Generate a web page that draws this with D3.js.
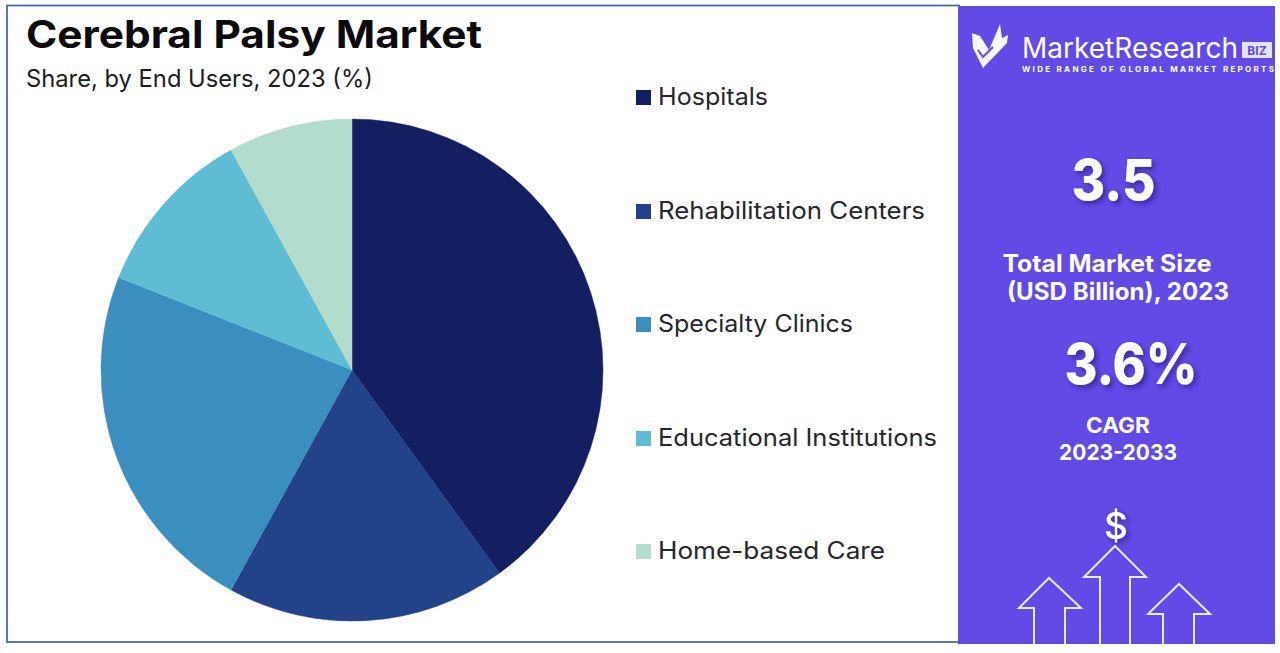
<!DOCTYPE html>
<html>
<head>
<meta charset="utf-8">
<script src="https://cdn.jsdelivr.net/npm/d3@7"></script>
<style>
  html, body { margin: 0; padding: 0; background: #fff; }
  svg { display: block; }
  text { font-family: Inter, "Open Sans", sans-serif; }
</style>
</head>
<body>
<div id="chart"></div>
<script>
const categories = ['Hospitals', 'Rehabilitation Centers', 'Specialty Clinics', 'Educational Institutions', 'Home-based Care'];
const shares = [40, 18, 23, 11, 8];
const colors = ['#141f61', '#22428a', '#3a8fbe', '#5fbdd3', '#b2ddcd'];
const panelStats = ['3.5', '3.6%'];
const panelLabels = [['Total Market Size', '(USD Billion), 2023'], ['CAGR', '2023-2033']];

const width = 1280, height = 653;
const purple = '#614ae6';

const svg = d3.select('#chart').append('svg')
    .attr('width', width)
    .attr('height', height);

const defs = svg.append('defs');
const shadow = defs.append('filter').attr('id', 'soft').attr('x', '-30%').attr('y', '-30%').attr('width', '170%').attr('height', '170%');
shadow.append('feDropShadow')
    .attr('dx', 3).attr('dy', 3).attr('stdDeviation', 2.5)
    .attr('flood-color', '#2a1d8c').attr('flood-opacity', 0.7);

// Frame and side panel
svg.append('rect')
    .attr('x', 7).attr('y', 5.5).attr('width', 952).attr('height', 636.5)
    .attr('fill', '#fff').attr('stroke', '#4a68ae').attr('stroke-width', 1.8);
svg.append('rect')
    .attr('x', 958).attr('y', 6).attr('width', 317).attr('height', 638)
    .attr('fill', purple);

// Titles
svg.append('text').text('Cerebral Palsy Market')
    .attr('x', 26).attr('y', 48)
    .attr('textLength', 456).attr('lengthAdjust', 'spacingAndGlyphs')
    .attr('font-size', 38).attr('font-weight', 700).attr('fill', '#0b0b0b');
svg.append('text').text('Share, by End Users, 2023 (%)')
    .attr('x', 26).attr('y', 87)
    .attr('textLength', 347).attr('lengthAdjust', 'spacingAndGlyphs')
    .attr('font-size', 24).attr('fill', '#1c1c1c');

// Pie
const pie = d3.pie().value(d => d).sort(null);
const arc = d3.arc().innerRadius(0).outerRadius(251);
svg.append('g')
    .attr('transform', 'translate(352,370)')
    .selectAll('path')
    .data(pie(shares))
    .enter().append('path')
    .attr('d', arc)
    .attr('fill', (d, i) => colors[i])
    .attr('stroke', (d, i) => colors[i])
    .attr('stroke-width', 0.5);

// Legend
const legendY = d3.scalePoint().domain(categories).range([97, 551]);
const legendWidths = [110, 267, 195, 279, 227];
const legend = svg.append('g')
    .selectAll('g')
    .data(categories)
    .enter().append('g')
    .attr('transform', d => 'translate(636,' + Math.round(legendY(d)) + ')');
legend.append('rect')
    .attr('x', 0).attr('y', -7).attr('width', 15).attr('height', 15)
    .attr('fill', (d, i) => colors[i]);
legend.append('text')
    .text(d => d)
    .attr('x', 22).attr('y', 8)
    .attr('textLength', (d, i) => legendWidths[i])
    .attr('lengthAdjust', 'spacingAndGlyphs')
    .attr('font-size', 24).attr('fill', '#26262b');

// Panel text
const side = svg.append('g').attr('fill', '#fff').attr('text-anchor', 'middle');
side.append('text').text(panelStats[0])
    .attr('x', 1113.5).attr('y', 200)
    .attr('textLength', 84).attr('lengthAdjust', 'spacingAndGlyphs')
    .attr('font-size', 56).attr('font-weight', 800).attr('filter', 'url(#soft)');
side.append('text').text(panelStats[1])
    .attr('x', 1131).attr('y', 384)
    .attr('textLength', 133).attr('lengthAdjust', 'spacingAndGlyphs')
    .attr('font-size', 56).attr('font-weight', 800).attr('filter', 'url(#soft)');
side.append('text').text(panelLabels[0][0])
    .attr('x', 1107).attr('y', 272)
    .attr('textLength', 209).attr('lengthAdjust', 'spacingAndGlyphs')
    .attr('font-size', 24).attr('font-weight', 700);
side.append('text').text(panelLabels[0][1])
    .attr('x', 1118).attr('y', 300)
    .attr('textLength', 222).attr('lengthAdjust', 'spacingAndGlyphs')
    .attr('font-size', 24).attr('font-weight', 700);
side.append('text').text(panelLabels[1][0])
    .attr('x', 1118).attr('y', 433)
    .attr('textLength', 64).attr('lengthAdjust', 'spacingAndGlyphs')
    .attr('font-size', 22).attr('font-weight', 700);
side.append('text').text(panelLabels[1][1])
    .attr('x', 1118).attr('y', 460)
    .attr('textLength', 118).attr('lengthAdjust', 'spacingAndGlyphs')
    .attr('font-size', 22).attr('font-weight', 700);

// Logo
const logo = svg.append('g');
logo.append('path')
    .attr('d', 'M972,33 L980,36 L989,50 L1000,24 L1002,38 L1008,35 L1007,43 L983,68 L973,48 Z')
    .attr('fill', '#fff').attr('opacity', 0.95);
logo.append('path')
    .attr('d', 'M978,50 L983,57 L993,47')
    .attr('fill', 'none').attr('stroke', purple).attr('stroke-width', 2);
logo.append('text').text('MarketResearch')
    .attr('x', 1022).attr('y', 58)
    .attr('textLength', 216).attr('lengthAdjust', 'spacingAndGlyphs')
    .attr('font-size', 28).attr('fill', '#fff');
logo.append('rect')
    .attr('x', 1242).attr('y', 42).attr('width', 30).attr('height', 16)
    .attr('fill', '#e4e2fb');
logo.append('text').text('BIZ')
    .attr('x', 1257).attr('y', 54.5)
    .attr('text-anchor', 'middle')
    .attr('font-size', 12).attr('font-weight', 700).attr('fill', purple);
logo.append('text').text('WIDE RANGE OF GLOBAL MARKET REPORTS')
    .attr('x', 1022).attr('y', 72)
    .attr('textLength', 252).attr('lengthAdjust', 'spacing')
    .attr('font-size', 8).attr('font-weight', 700).attr('fill', '#fff');

// Dollar and arrows
side.append('text').text('$')
    .attr('x', 1116).attr('y', 539)
    .attr('font-size', 37).attr('font-weight', 500).attr('filter', 'url(#soft)');
const arrow = d3.line();
const arrowShapes = [
    [[1034, 644], [1034, 608], [1019, 608], [1049, 578], [1081, 608], [1065, 608], [1065, 644]],
    [[1100, 644], [1100, 577], [1084, 577], [1115, 546], [1146, 577], [1130, 577], [1130, 644]],
    [[1163, 644], [1163, 614], [1148, 614], [1179, 584], [1210, 614], [1194, 614], [1194, 644]]
];
svg.append('g')
    .selectAll('path')
    .data(arrowShapes)
    .enter().append('path')
    .attr('d', d => arrow(d))
    .attr('fill', 'none')
    .attr('stroke', '#ece9fd')
    .attr('stroke-width', 2);
</script>
</body>
</html>
